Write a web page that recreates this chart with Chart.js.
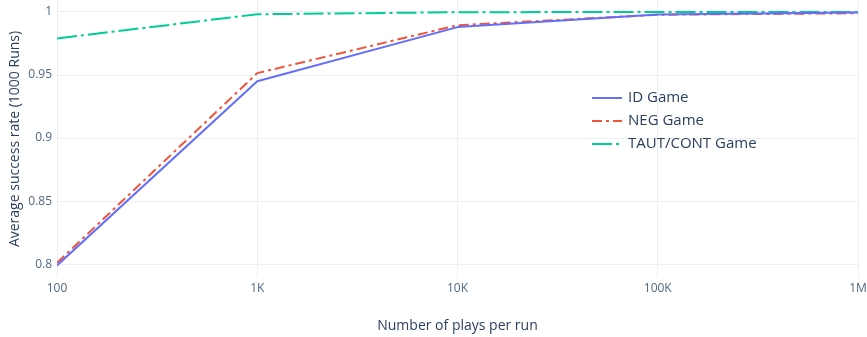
<!DOCTYPE html>
<html>
<head>
<meta charset="utf-8">
<script src="https://cdn.jsdelivr.net/npm/chart.js@4/dist/chart.umd.min.js"></script>
<style>
  html, body { margin: 0; padding: 0; background: #fff; }
  #wrap { position: relative; width: 867px; height: 337px; }
</style>
</head>
<body>
<div id="wrap"><canvas id="c" width="867" height="337"></canvas></div>
<script>
// Plays per run and the average success rate of each game over 1000 runs
const plays = [100, 1000, 10000, 100000, 1000000];
const idGame = [0.7990, 0.9450, 0.9880, 0.9980, 0.9995];
const negGame = [0.8010, 0.9515, 0.9895, 0.9978, 0.9990];
const tautContGame = [0.9790, 0.9982, 0.9998, 1.0000, 1.0000];

const xTicks = [100, 1000, 10000, 100000, 1000000];
const xTickLabels = ['100', '1K', '10K', '100K', '1M'];
const yTicks = [0.8, 0.85, 0.9, 0.95, 1];
const yTickLabels = ['0.8', '0.85', '0.9', '0.95', '1'];

const seriesNames = ['ID Game', 'NEG Game', 'TAUT/CONT Game'];

const FONT = "'Open Sans', sans-serif";
const TEXT = '#2a3f5f';
const GRID = '#ebf0f8';

function pts(vals) { return plays.map((x, i) => ({ x, y: vals[i] })); }

const datasets = [
  { label: seriesNames[0], data: pts(idGame), borderColor: '#636efa', borderWidth: 2, borderDash: [] },
  { label: seriesNames[1], data: pts(negGame), borderColor: '#ef553b', borderWidth: 2, borderDash: [10, 4, 3, 4] },
  { label: seriesNames[2], data: pts(tautContGame), borderColor: '#00cc96', borderWidth: 2, borderDash: [20, 4, 3, 4] }
].map(d => Object.assign(d, { fill: false, pointRadius: 0, tension: 0, borderJoinStyle: 'round' }));

// Legend drawn inside the plot area
const legendPlugin = {
  id: 'innerLegend',
  afterDraw(chart) {
    const ctx = chart.ctx;
    const x0 = 592, y0 = 98, step = 23;
    ctx.save();
    chart.data.datasets.forEach((ds, i) => {
      const y = y0 + i * step;
      ctx.strokeStyle = ds.borderColor;
      ctx.lineWidth = 2;
      ctx.setLineDash(ds.borderDash);
      ctx.beginPath();
      ctx.moveTo(x0, y);
      ctx.lineTo(x0 + 30, y);
      ctx.stroke();
      ctx.setLineDash([]);
      ctx.fillStyle = TEXT;
      ctx.font = "15px " + FONT;
      ctx.textBaseline = 'middle';
      ctx.textAlign = 'left';
      ctx.fillText(ds.label, x0 + 36, y);
    });
    ctx.restore();
  }
};

new Chart(document.getElementById('c'), {
  type: 'line',
  data: { datasets },
  plugins: [legendPlugin],
  options: {
    responsive: false,
    animation: false,
    events: [],
    layout: { padding: { top: 0, right: 9, bottom: 0, left: 0 } },
    plugins: { legend: { display: false }, tooltip: { enabled: false } },
    scales: {
      x: {
        type: 'logarithmic',
        min: 100,
        max: 1000000,
        border: { display: false },
        grid: { color: GRID, lineWidth: 1, drawTicks: false },
        afterBuildTicks(s) { s.ticks = xTicks.map(v => ({ value: v })); },
        afterFit(s) { s.height = 59; s.paddingLeft = 0; s.paddingRight = 0; },
        ticks: {
          autoSkip: false, maxRotation: 0, padding: 3,
          color: '#506784', font: { family: FONT, size: 12 },
          callback: (v) => xTickLabels[xTicks.indexOf(v)]
        },
        title: {
          display: true, text: 'Number of plays per run',
          color: TEXT, font: { family: FONT, size: 14 }, padding: { top: 3, bottom: 3 }
        }
      },
      y: {
        type: 'linear',
        min: 0.789,
        max: 1.0095,
        border: { display: false },
        grid: { color: GRID, lineWidth: 1, drawTicks: false },
        afterBuildTicks(s) { s.ticks = yTicks.map(v => ({ value: v })); },
        afterFit(s) { s.width = 57; s.paddingTop = 0; s.paddingBottom = 0; },
        ticks: {
          autoSkip: false, padding: 5,
          color: '#506784', font: { family: FONT, size: 12 },
          callback: (v) => yTickLabels[yTicks.indexOf(v)]
        },
        title: {
          display: true, text: 'Average success rate (1000 Runs)',
          color: TEXT, font: { family: FONT, size: 14 }, padding: { top: 7, bottom: 7 }
        }
      }
    }
  }
});
</script>
</body>
</html>
